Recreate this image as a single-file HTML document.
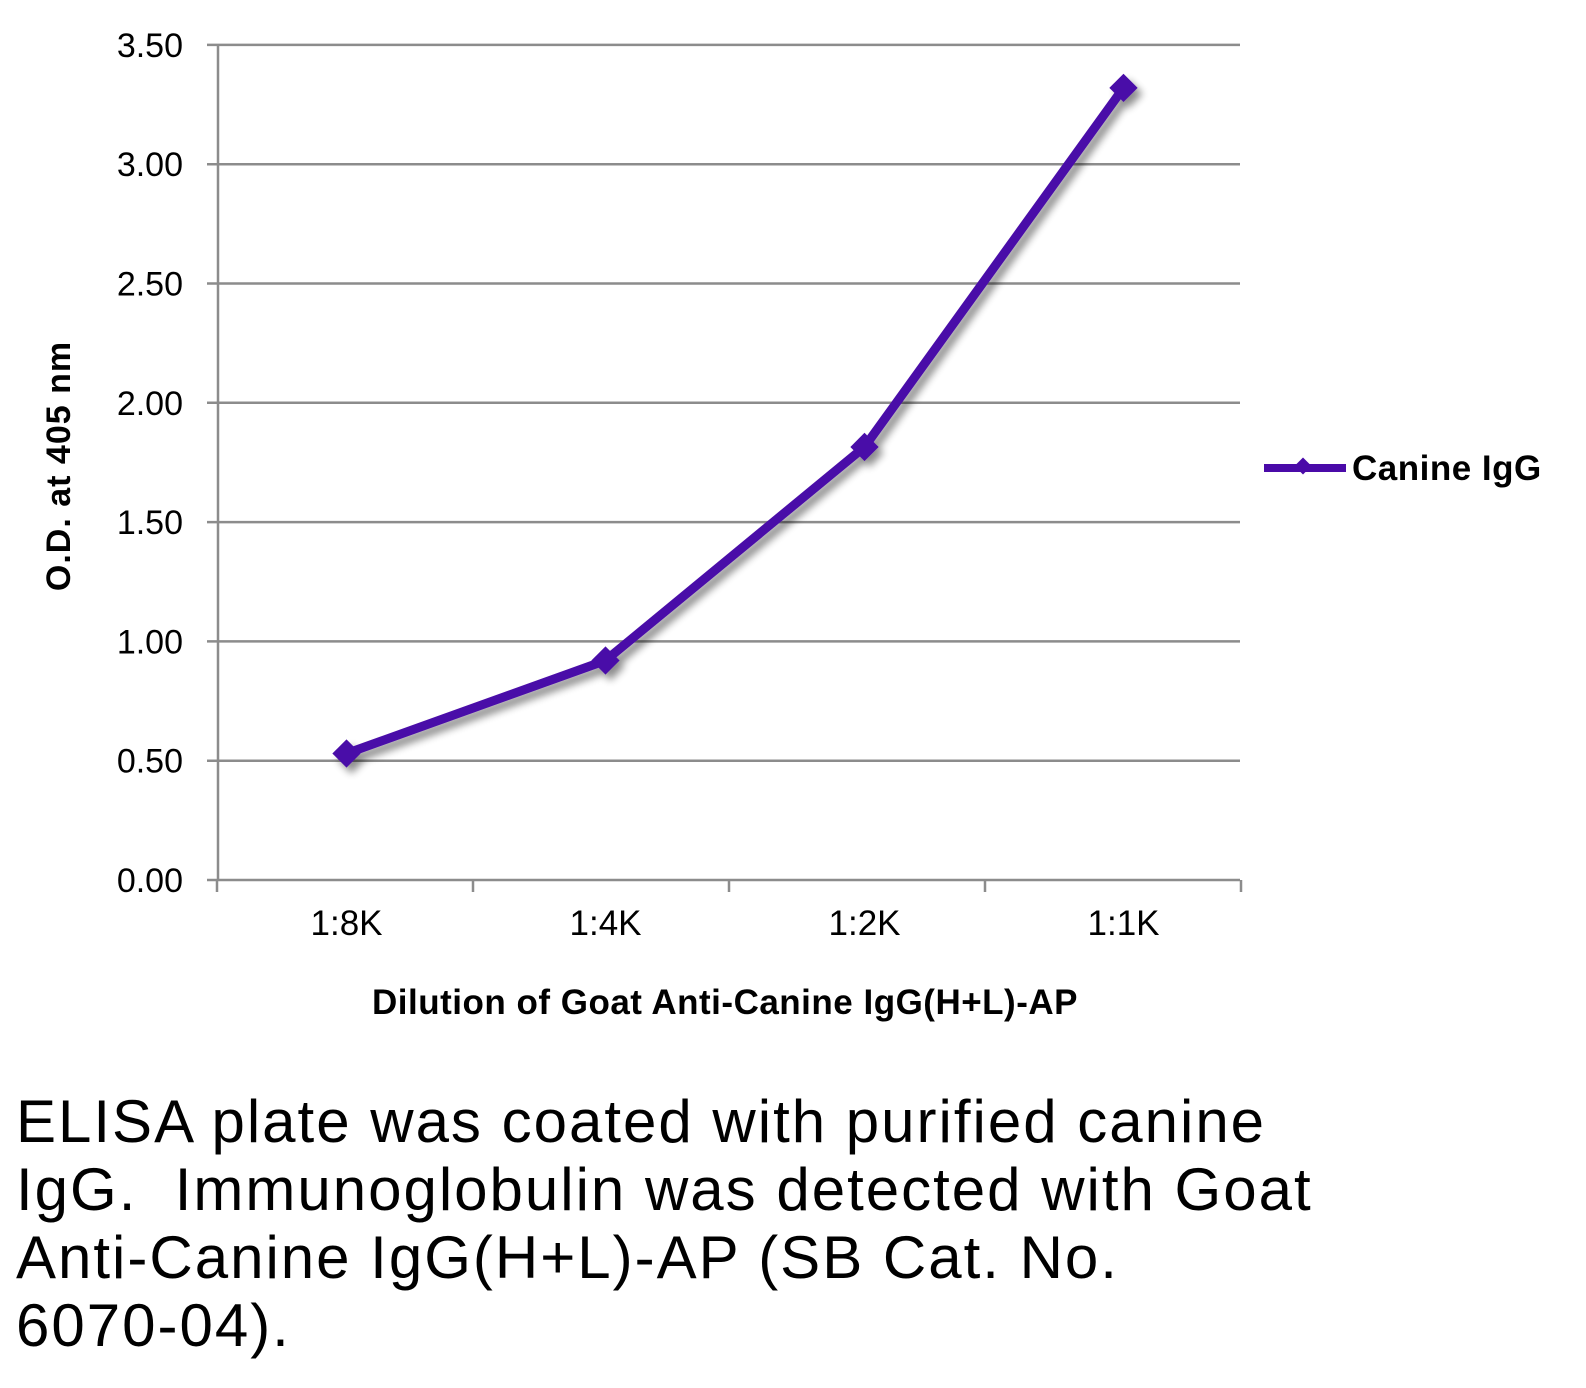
<!DOCTYPE html>
<html><head><meta charset="utf-8"><style>
body{margin:0;background:#fff;width:1586px;height:1388px;overflow:hidden;font-family:"Liberation Sans",sans-serif}
svg{position:absolute;left:0;top:0}
#caption{position:absolute;left:16px;top:1088px;font-size:60px;line-height:68px;color:#000;width:1560px;letter-spacing:2px;white-space:nowrap}
</style></head><body>
<svg id="chart" width="1586" height="1060" xmlns="http://www.w3.org/2000/svg">
<defs><filter id="sh" x="-10%" y="-10%" width="130%" height="130%"><feGaussianBlur in="SourceAlpha" stdDeviation="4"/><feOffset dx="5" dy="6"/><feComponentTransfer><feFuncA type="linear" slope="0.45"/></feComponentTransfer><feMerge><feMergeNode/><feMergeNode in="SourceGraphic"/></feMerge></filter></defs>
<g id="grid"></g><g id="axes"></g><g id="series"></g>
<text transform="translate(70,466) rotate(-90)" text-anchor="middle" font-size="34" font-weight="bold" letter-spacing="1">O.D. at 405 nm</text>
<text x="725" y="1014" text-anchor="middle" font-size="35" font-weight="bold" letter-spacing="0.5">Dilution of Goat Anti-Canine IgG(H+L)-AP</text>
<g>
<line x1="1264" y1="468" x2="1346" y2="468" stroke="#4a0aa8" stroke-width="8"/>
<rect x="1297" y="460" width="12" height="12" fill="#4a0aa8" transform="rotate(45 1303 466)"/>
<text x="1352" y="480" font-size="35" font-weight="bold" letter-spacing="0.5">Canine IgG</text>
</g>
</svg>
<div id="caption">ELISA plate was coated with purified canine<br>IgG.&nbsp; Immunoglobulin was detected with Goat<br>Anti-Canine IgG(H+L)-AP (SB Cat. No.<br>6070-04).</div>
<script>
const categories=["1:8K","1:4K","1:2K","1:1K"];
const values=[0.53,0.92,1.815,3.32];
const yTicks=[0,0.5,1,1.5,2,2.5,3,3.5];
const yTickLabels=["0.00","0.50","1.00","1.50","2.00","2.50","3.00","3.50"];
const NS="http://www.w3.org/2000/svg";
const y0=880,yScale=238.6,bandStart=217,band=259;
function yPos(v){return y0-v*yScale;}
function xPos(i){return bandStart+band*(i+0.5);}
function mk(t,a,p){const e=document.createElementNS(NS,t);for(const k in a)e.setAttribute(k,a[k]);p.appendChild(e);return e;}
const grid=document.getElementById('grid'),axes=document.getElementById('axes'),series=document.getElementById('series');
yTicks.forEach((v,i)=>{
 const l=mk('line',{x1:207,x2:1240,y1:yPos(v),y2:yPos(v),stroke:'#8c8c8c','stroke-width':2.5},grid);
 
 
 const t=mk('text',{x:183,y:yPos(v)+12,'text-anchor':'end','font-size':34},axes);
 t.textContent=yTickLabels[i];
 
 
});
mk('line',{x1:218,x2:218,y1:yPos(3.5),y2:y0+1,stroke:'#8c8c8c','stroke-width':2.5},axes);
for(let i=0;i<=4;i++){const x=217+256*i;mk('line',{x1:x,x2:x,y1:y0,y2:y0+12,stroke:'#8c8c8c','stroke-width':2.5},axes);}
categories.forEach((c,i)=>{
 const t=mk('text',{x:xPos(i),y:935,'text-anchor':'middle','font-size':35},axes);
 t.textContent=c;
 
 
});
const g=mk('g',{filter:'url(#sh)'},series);
const pts=values.map((v,i)=>xPos(i)+','+yPos(v)).join(' ');
const pl=mk('polyline',{points:pts,fill:'none',stroke:'#4a0aa8','stroke-width':9,'stroke-linejoin':'round'},g);


values.forEach((v,i)=>{
 const x=xPos(i),y=yPos(v);
 const r=mk('rect',{x:x-10,y:y-10,width:20,height:20,fill:'#4a0aa8',transform:`rotate(45 ${x} ${y})`},g);
 
 
});
</script>
</body></html>
